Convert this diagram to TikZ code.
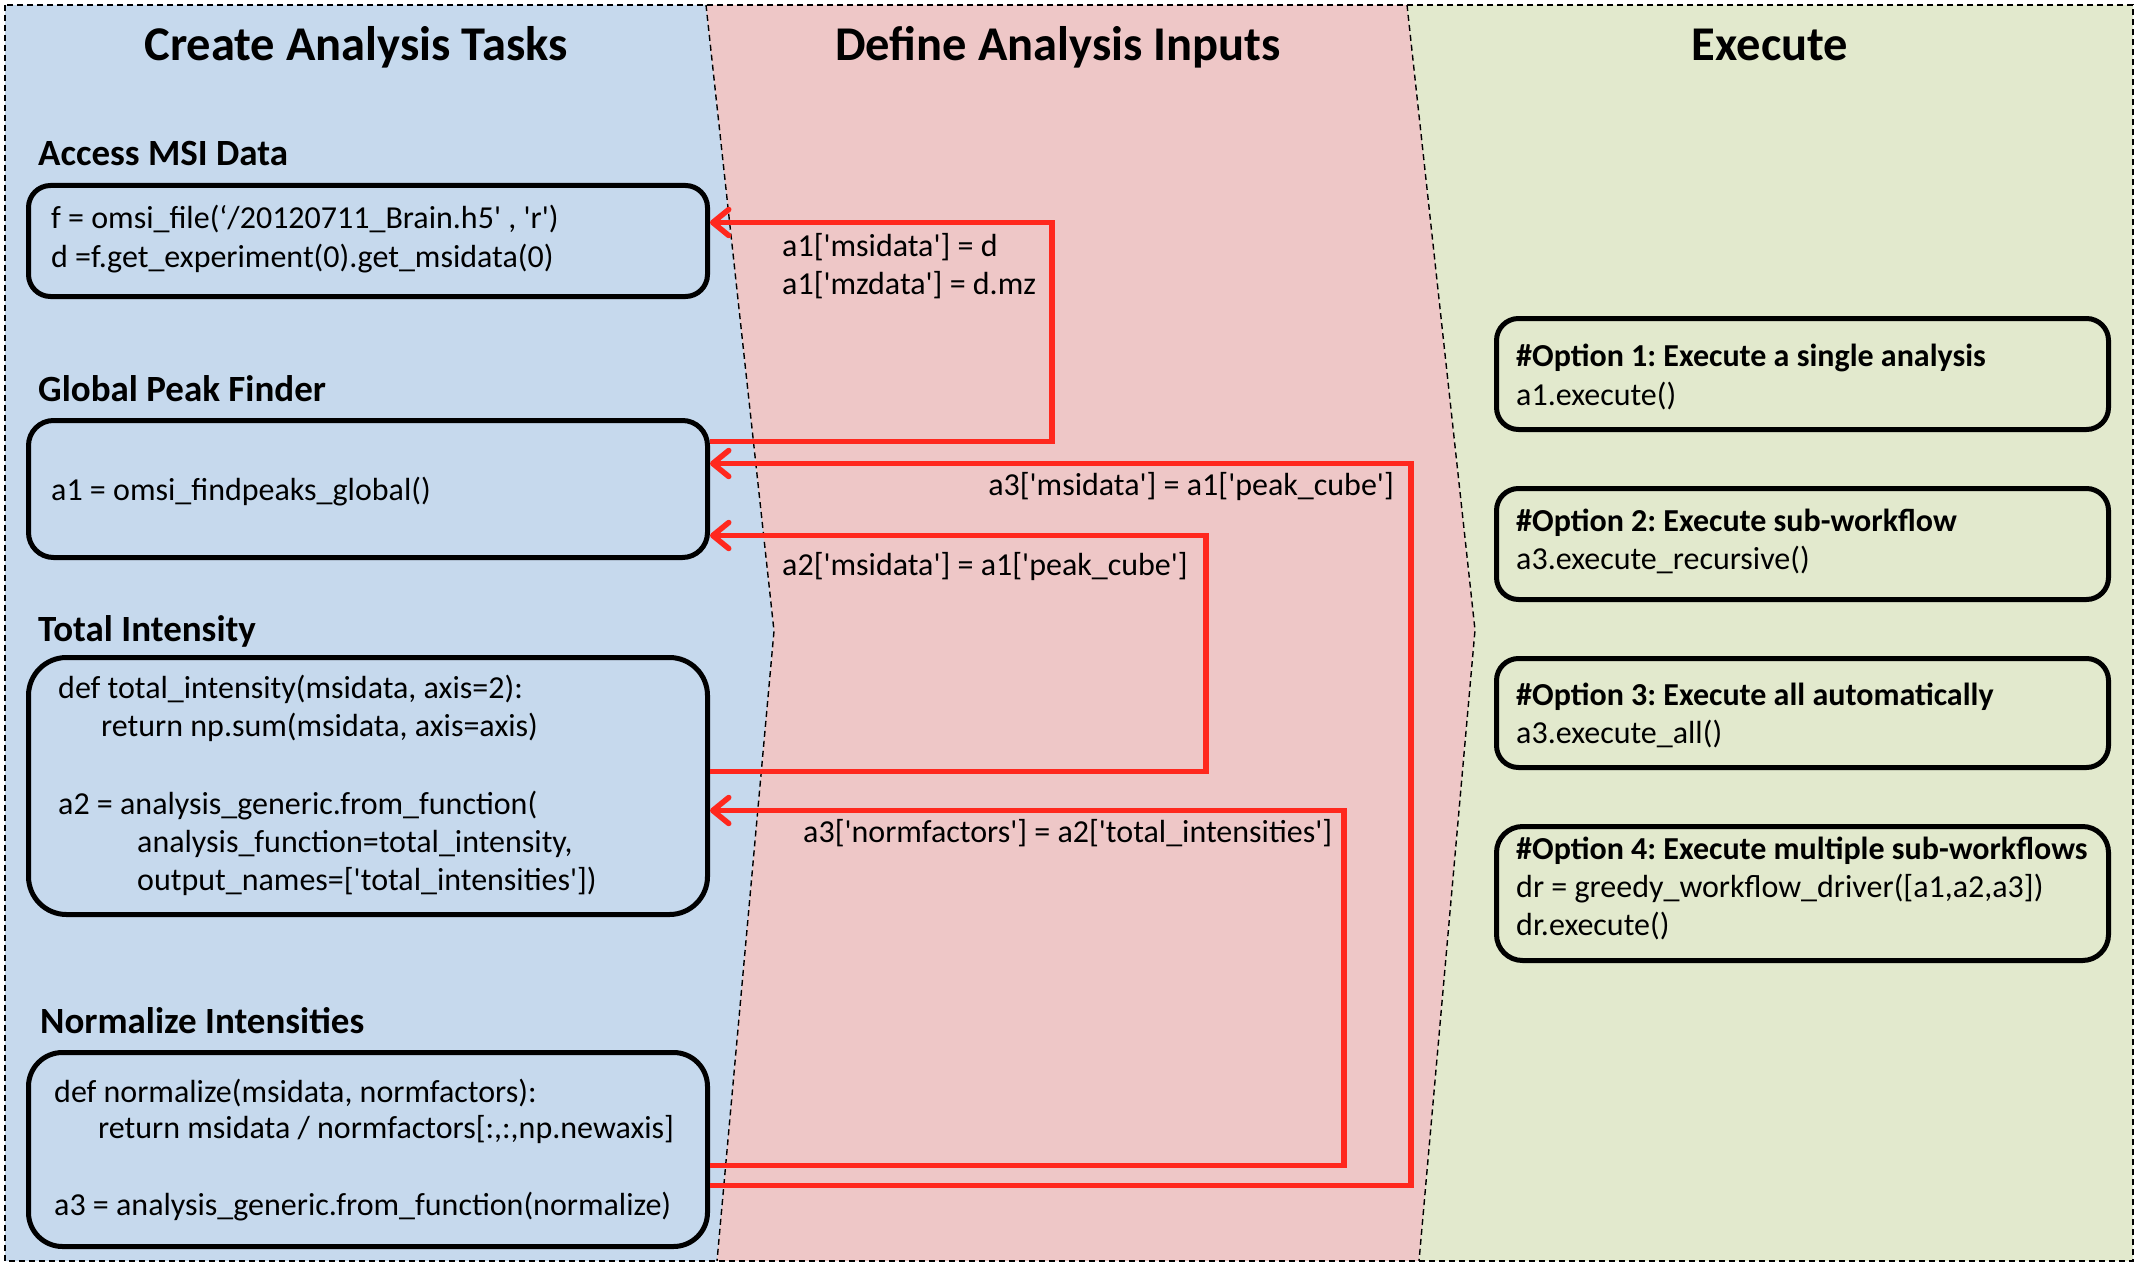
\documentclass[tikz,border=0pt]{standalone}
\usepackage{fontspec}
\setmainfont{Carlito}[Ligatures=TeXOff]
\usetikzlibrary{arrows.meta,calc}
\definecolor{bgblue}{RGB}{198,217,237}
\definecolor{bgpink}{RGB}{238,199,199}
\definecolor{bggreen}{RGB}{226,233,205}
\definecolor{arrred}{RGB}{255,40,30}
\frenchspacing
\begin{document}
\begin{tikzpicture}[x=1pt,y=1pt,
  dashline/.style={draw=black,line width=1.4pt,dash pattern=on 6pt off 4pt},
  codebox/.style={draw=black,line width=5pt,inner sep=0pt,anchor=north west},
  codeline/.style={inner sep=0pt,anchor=base west,font=\fontsize{32}{38}\selectfont},
  optline/.style={inner sep=0pt,anchor=base west,font=\fontsize{32}{38}\selectfont\bfseries},
  heading/.style={inner sep=0pt,anchor=base west,font=\fontsize{37}{44}\selectfont\bfseries},
  ptitle/.style={inner sep=0pt,anchor=base,font=\fontsize{48.5}{58}\selectfont\bfseries},
  redarrow/.style={draw=arrred,line width=5.5pt,-{Straight Barb[length=16pt,width=26pt,round]}}
]
\useasboundingbox (0,0) rectangle (2140,-1265);
% background panels
\fill[bgblue] (5,-5) -- (706,-5) -- (774,-631) -- (717,-1261) -- (5,-1261) -- cycle;
\fill[bgpink] (706,-5) -- (1407,-5) -- (1475,-630) -- (1419,-1261) -- (717,-1261) -- (774,-631) -- cycle;
\fill[bggreen] (1407,-5) -- (2133,-5) -- (2133,-1261) -- (1419,-1261) -- (1475,-630) -- cycle;
\draw[dashline] (5,-5) rectangle (2133,-1261);
\draw[dashline] (706,-5) -- (774,-631) -- (717,-1261);
\draw[dashline] (1407,-5) -- (1475,-630) -- (1419,-1261);
% titles
\node[ptitle] (t1) at (356,-61) {Create Analysis Tasks};
\node[ptitle] (t2) at (1058,-61) {Define Analysis Inputs};
\node[ptitle] (t3) at (1770,-61) {Execute};
% headings
\node[heading] (h1) at (38,-166) {Access MSI Data};
\node[heading] (h2) at (38,-401) {Global Peak Finder};
\node[heading] (h3) at (38,-641) {Total Intensity};
\node[heading] (h4) at (40,-1033) {Normalize Intensities};
% left boxes
\node[codebox,rounded corners=22pt,minimum width=679pt,minimum height=111pt] (b1) at (26,-183) {};
\node[codebox,rounded corners=25pt,minimum width=679pt,minimum height=137pt] (b2) at (26,-418) {};
\node[codebox,rounded corners=38pt,minimum width=679pt,minimum height=257pt] (b3) at (26,-655) {};
\node[codebox,rounded corners=34pt,minimum width=679pt,minimum height=194pt] (b4) at (26,-1050) {};
% box texts
\node[codeline] (c1a) at (51,-229) {f = omsi\_file(‘/20120711\_Brain.h5' , 'r')};
\node[codeline] (c1b) at (51,-267) {d =f.get\_experiment(0).get\_msidata(0)};
\node[codeline] (c2a) at (51,-500) {a1 = omsi\_findpeaks\_global()};
\node[codeline] (c3a) at (58,-698) {def total\_intensity(msidata, axis=2):};
\node[codeline] (c3b) at (101,-736) {return np.sum(msidata, axis=axis)};
\node[codeline] (c3c) at (58,-814) {a2 = analysis\_generic.from\_function(};
\node[codeline] (c3d) at (137,-852) {analysis\_function=total\_intensity,};
\node[codeline] (c3e) at (137,-890) {output\_names=['total\_intensities'])};
\node[codeline] (c4a) at (54,-1102) {def normalize(msidata, normfactors):};
\node[codeline] (c4b) at (98,-1138) {return msidata / normfactors[:,:,np.newaxis]};
\node[codeline] (c4c) at (54,-1215) {a3 = analysis\_generic.from\_function(normalize)};
% option boxes
\node[codebox,rounded corners=22pt,minimum width=612pt,minimum height=111pt] (o1) at (1494,-316) {};
\node[codebox,rounded corners=22pt,minimum width=612pt,minimum height=111pt] (o2) at (1494,-486) {};
\node[codebox,rounded corners=22pt,minimum width=612pt,minimum height=109pt] (o3) at (1494,-656) {};
\node[codebox,rounded corners=26pt,minimum width=612pt,minimum height=134pt] (o4) at (1494,-824) {};
\node[optline] (p1a) at (1516,-366) {\#Option 1: Execute a single analysis};
\node[codeline] (p1b) at (1516,-405) {a1.execute()};
\node[optline] (p2a) at (1516,-531) {\#Option 2: Execute sub-workflow};
\node[codeline] (p2b) at (1516,-569) {a3.execute\_recursive()};
\node[optline] (p3a) at (1516,-705) {\#Option 3: Execute all automatically};
\node[codeline] (p3b) at (1516,-743) {a3.execute\_all()};
\node[optline] (p4a) at (1516,-859) {\#Option 4: Execute multiple sub-workflows};
\node[codeline] (p4b) at (1516,-897) {dr = greedy\_workflow\_driver([a1,a2,a3])};
\node[codeline] (p4c) at (1516,-935) {dr.execute()};
% connectors
\draw[redarrow] ([yshift=-23.5pt]b2.north east) -| ([xshift=342pt,yshift=-39.5pt]b1.north east) -- ([yshift=-39.5pt]b1.north east);
\draw[redarrow] ([yshift=-135.5pt]b4.north east) -| ([xshift=701pt,yshift=-45.5pt]b2.north east) -- ([yshift=-45.5pt]b2.north east);
\draw[redarrow] ([yshift=-116.5pt]b3.north east) -| ([xshift=496pt,yshift=-117.5pt]b2.north east) -- ([yshift=-117.5pt]b2.north east);
\draw[redarrow] ([yshift=-115.5pt]b4.north east) -| ([xshift=634pt,yshift=-155.5pt]b3.north east) -- ([yshift=-155.5pt]b3.north east);
% connector labels
\node[codeline] (l1a) at (782,-257) {a1['msidata'] = d};
\node[codeline] (l1b) at (782,-294) {a1['mzdata'] = d.mz};
\node[codeline,anchor=base east] (l2) at (1394,-495) {a3['msidata'] = a1['peak\_cube']};
\node[codeline] (l3) at (782,-575) {a2['msidata'] = a1['peak\_cube']};
\node[codeline] (l4) at (803,-842) {a3['normfactors'] = a2['total\_intensities']};
\end{tikzpicture}
\end{document}
